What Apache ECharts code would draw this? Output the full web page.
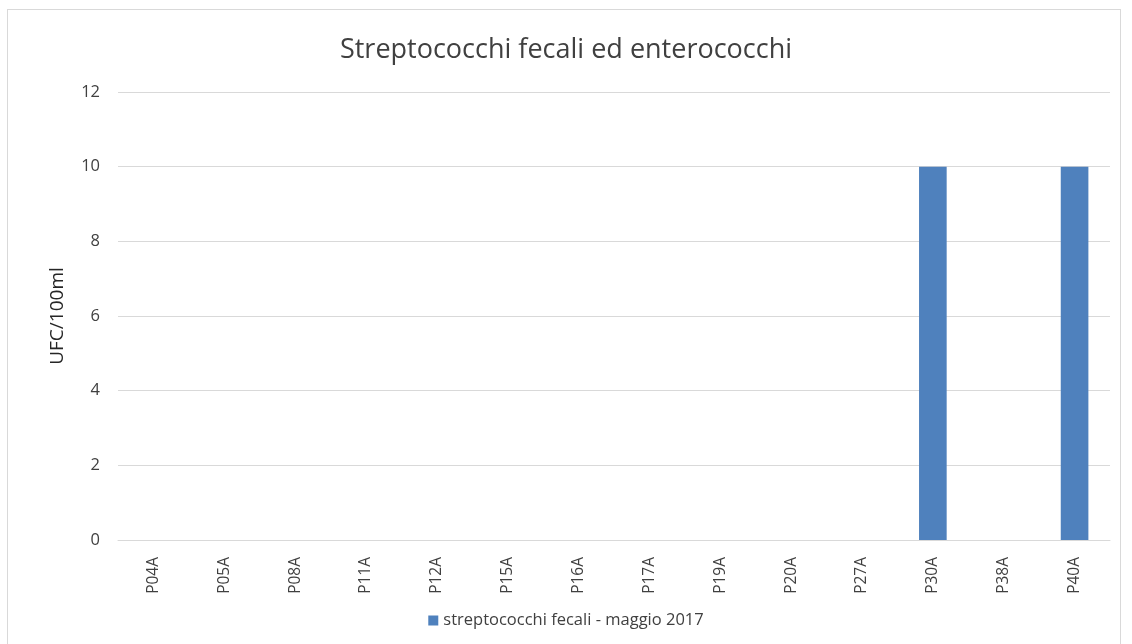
<!DOCTYPE html>
<html>
<head>
<meta charset="utf-8">
<script src="https://cdn.jsdelivr.net/npm/echarts@6/dist/echarts.min.js"></script>
<style>
  html, body { margin: 0; padding: 0; background: #fff; }
  #frame { position: absolute; left: 7px; top: 9px; width: 1114px; height: 660px; border: 1px solid #d9d9d9; box-sizing: border-box; }
  #chart { position: absolute; left: 0; top: 0; width: 1132px; height: 644px; }
</style>
</head>
<body>
<div id="frame"></div>
<div id="chart"></div>
<script>
// Sampling stations and counts (UFC/100ml)
const stations = ['P04A','P05A','P08A','P11A','P12A','P15A','P16A','P17A','P19A','P20A','P27A','P30A','P38A','P40A'];
const counts = [0,0,0,0,0,0,0,0,0,0,0,10,0,10];
const yTicks = { min: 0, max: 12, step: 2 };
const seriesName = 'streptococchi fecali - maggio 2017';
const chartTitle = 'Streptococchi fecali ed enterococchi';

const FONT = '"Open Sans", "Noto Sans", sans-serif';
const chart = echarts.init(document.getElementById('chart'), null, { renderer: 'canvas' });
chart.setOption({
  animation: false,
  backgroundColor: 'transparent',
  title: {
    text: chartTitle,
    left: 'center',
    top: 32,
    textStyle: { fontFamily: FONT, fontSize: 27, fontWeight: 'normal', color: '#404040' }
  },
  grid: { left: 118, right: 22, top: 92, bottom: 104, containLabel: false },
  xAxis: {
    type: 'category',
    data: stations,
    axisLine: { show: true, lineStyle: { color: '#d9d9d9', width: 1 } },
    axisTick: { show: false },
    axisLabel: {
      rotate: 90,
      margin: 17,
      fontFamily: FONT,
      fontSize: 15.5,
      color: '#404040'
    }
  },
  yAxis: {
    type: 'value',
    min: yTicks.min,
    max: yTicks.max,
    interval: yTicks.step,
    name: 'UFC/100ml',
    nameLocation: 'middle',
    nameGap: 51,
    nameRotate: 90,
    nameTextStyle: { fontFamily: FONT, fontSize: 19, color: '#262626' },
    axisLine: { show: false },
    axisTick: { show: false },
    axisLabel: { margin: 18, fontFamily: FONT, fontSize: 16.5, color: '#404040' },
    splitLine: { lineStyle: { color: '#d9d9d9', width: 1 } }
  },
  legend: {
    bottom: 10,
    left: 'center',
    itemWidth: 10,
    itemHeight: 10,
    itemGap: 5,
    icon: 'rect',
    textStyle: { fontFamily: FONT, fontSize: 16.5, color: '#404040' },
    data: [seriesName]
  },
  series: [{
    name: seriesName,
    type: 'bar',
    data: counts,
    barWidth: '39%',
    itemStyle: { color: '#4f81bd' }
  }]
});
</script>
</body>
</html>
